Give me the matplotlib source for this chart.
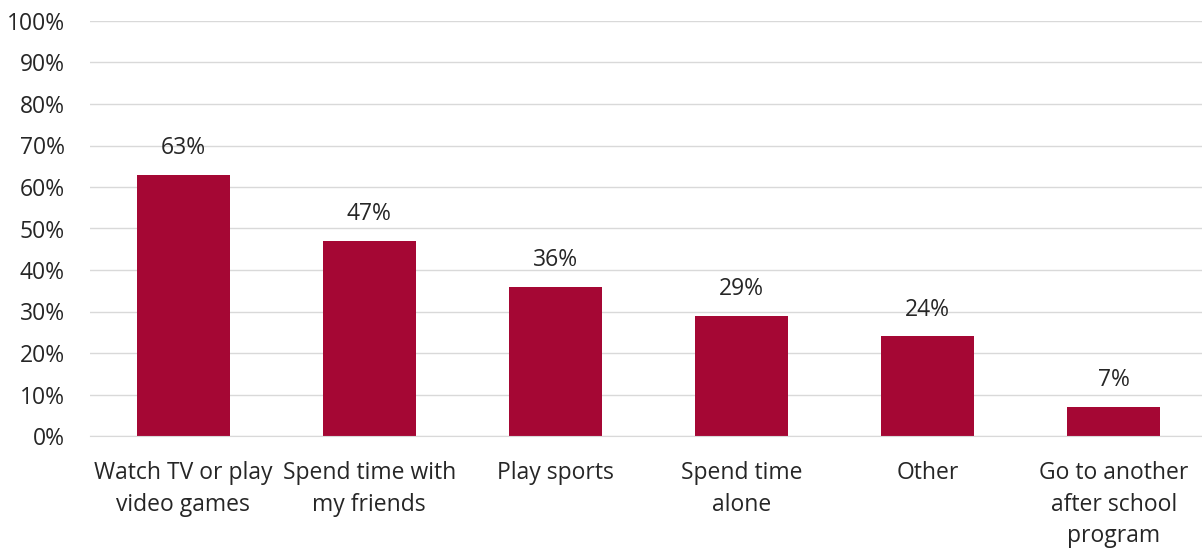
import matplotlib.pyplot as plt
from matplotlib.ticker import PercentFormatter

# ── Data ──
categories = [
    "Watch TV or play\nvideo games",
    "Spend time with\nmy friends",
    "Play sports",
    "Spend time\nalone",
    "Other",
    "Go to another\nafter school\nprogram",
]
values = [63, 47, 36, 29, 24, 7]
value_labels = ["63%", "47%", "36%", "29%", "24%", "7%"]

BAR_COLOR = "#A50734"
GRID_COLOR = "#D9D9D9"
TEXT_COLOR = "#262626"

plt.rcParams["font.family"] = ["Open Sans", "DejaVu Sans"]

fig = plt.figure(figsize=(12.02, 5.50), dpi=100)
ax = fig.add_axes([90 / 1202, 1 - 436 / 550, 1117 / 1202, 415 / 550])

x = range(len(categories))
bars = ax.bar(x, values, width=0.5, color=BAR_COLOR, zorder=3)

for b, lab in zip(bars, value_labels):
    ax.text(b.get_x() + b.get_width() / 2, b.get_height() + 3.5, lab,
            ha="center", va="bottom", fontsize=16.5, color=TEXT_COLOR)

ax.set_ylim(0, 100)
ax.set_xlim(-0.5, len(categories) - 0.5)
ax.set_yticks(range(0, 101, 10))
ax.yaxis.set_major_formatter(PercentFormatter(decimals=0))
ax.set_xticks(list(x))
ax.set_xticklabels(categories, fontsize=16.5, color=TEXT_COLOR, linespacing=1.42)
ax.tick_params(axis="y", labelsize=16.5, labelcolor=TEXT_COLOR, length=0, pad=18)
ax.tick_params(axis="x", length=0, pad=18)

ax.grid(axis="y", color=GRID_COLOR, linewidth=1, zorder=0)
for s in ["top", "right", "left"]:
    ax.spines[s].set_visible(False)
ax.spines["bottom"].set_color(GRID_COLOR)
ax.spines["bottom"].set_zorder(4)

fig.savefig("out.png", dpi=100)
